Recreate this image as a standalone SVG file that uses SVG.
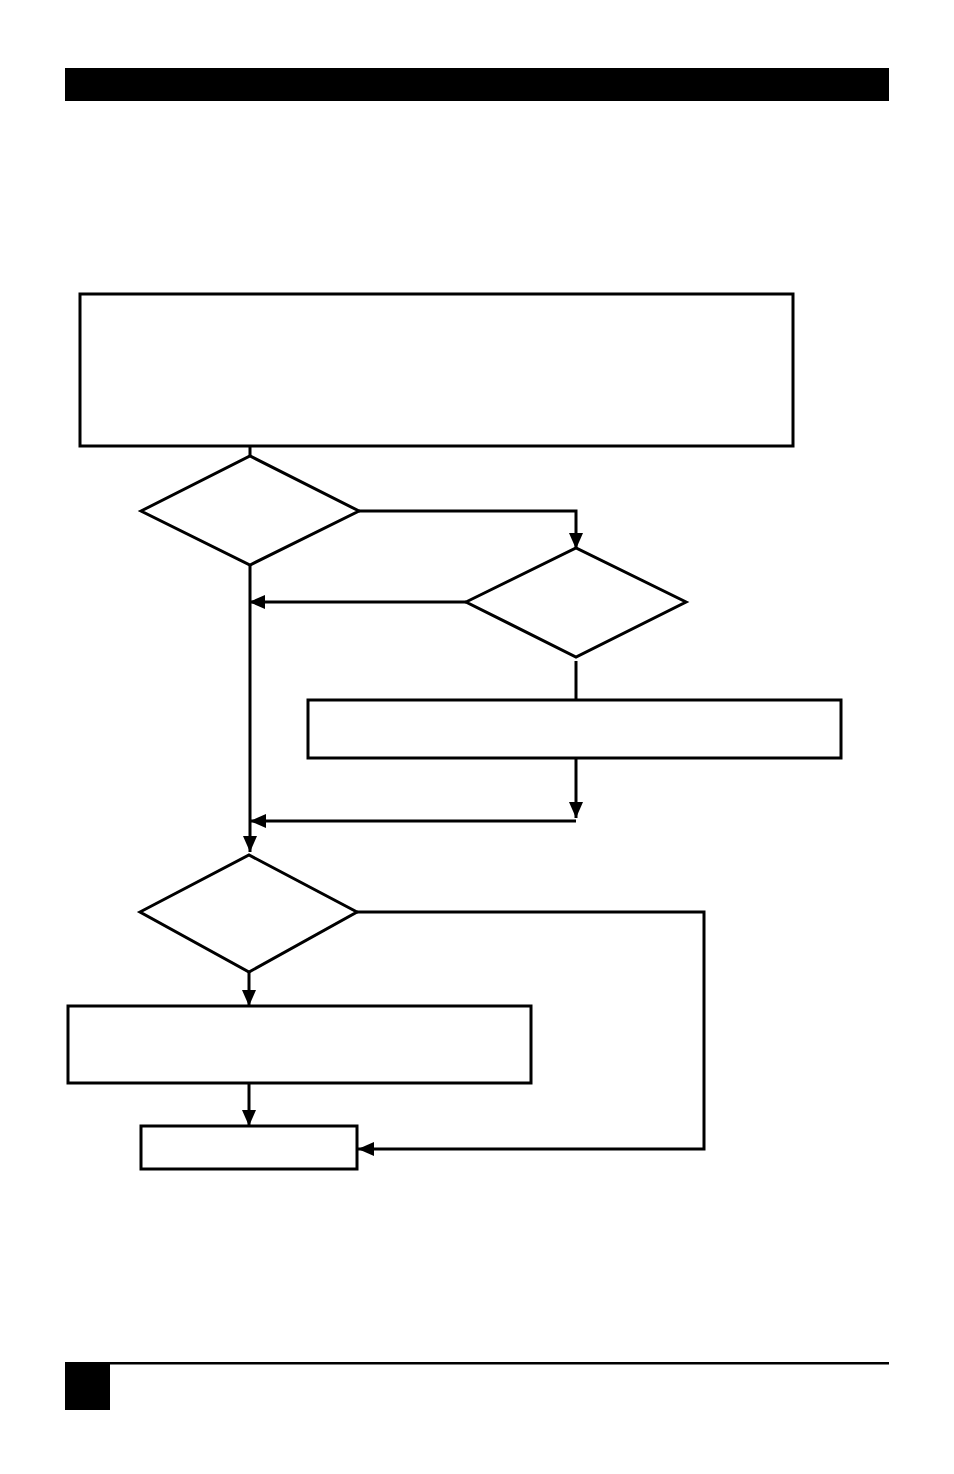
<svg xmlns="http://www.w3.org/2000/svg" width="954" height="1474" viewBox="0 0 954 1474">
<style>
.n{fill:#fff;stroke:#000;stroke-width:3}
.c{fill:none;stroke:#000;stroke-width:3}
</style>
<defs>
<marker id="ah" markerUnits="userSpaceOnUse" markerWidth="18" markerHeight="16" refX="16" refY="7" orient="auto" overflow="visible">
<path d="M0,0 L16,7 L0,14 Z" fill="#000"/>
</marker>
</defs>
<rect x="65" y="68" width="824" height="33" fill="#000"/>
<rect x="65" y="1362" width="824" height="2.5" fill="#000"/>
<rect x="65" y="1362" width="45" height="48" fill="#000"/>
<g id="connectors">
<path class="c" d="M250,446 V456"/>
<path class="c" d="M359,511 H576 V549" marker-end="url(#ah)"/>
<path class="c" d="M466,602 H249" marker-end="url(#ah)"/>
<path class="c" d="M250,565 V852" marker-end="url(#ah)"/>
<path class="c" d="M576,661 V700"/>
<path class="c" d="M576,758 V818" marker-end="url(#ah)"/>
<path class="c" d="M576,821 H250" marker-end="url(#ah)"/>
<path class="c" d="M249,972 V1006" marker-end="url(#ah)"/>
<path class="c" d="M249,1083 V1126" marker-end="url(#ah)"/>
<path class="c" d="M357,912 H704 V1149 H358" marker-end="url(#ah)"/>
</g>
<g id="box1"><rect class="n" x="80" y="294" width="713" height="152"/></g>
<g id="dec1"><polygon class="n" points="141,511 250,456 359,511 250,565"/></g>
<g id="dec2"><polygon class="n" points="466,602 576,548 686,602 576,657"/></g>
<g id="box2"><rect class="n" x="308" y="700" width="533" height="58"/></g>
<g id="dec3"><polygon class="n" points="140,912 249,855 357,912 249,972"/></g>
<g id="box3"><rect class="n" x="68" y="1006" width="463" height="77"/></g>
<g id="box4"><rect class="n" x="141" y="1126" width="216" height="43"/></g>
</svg>
